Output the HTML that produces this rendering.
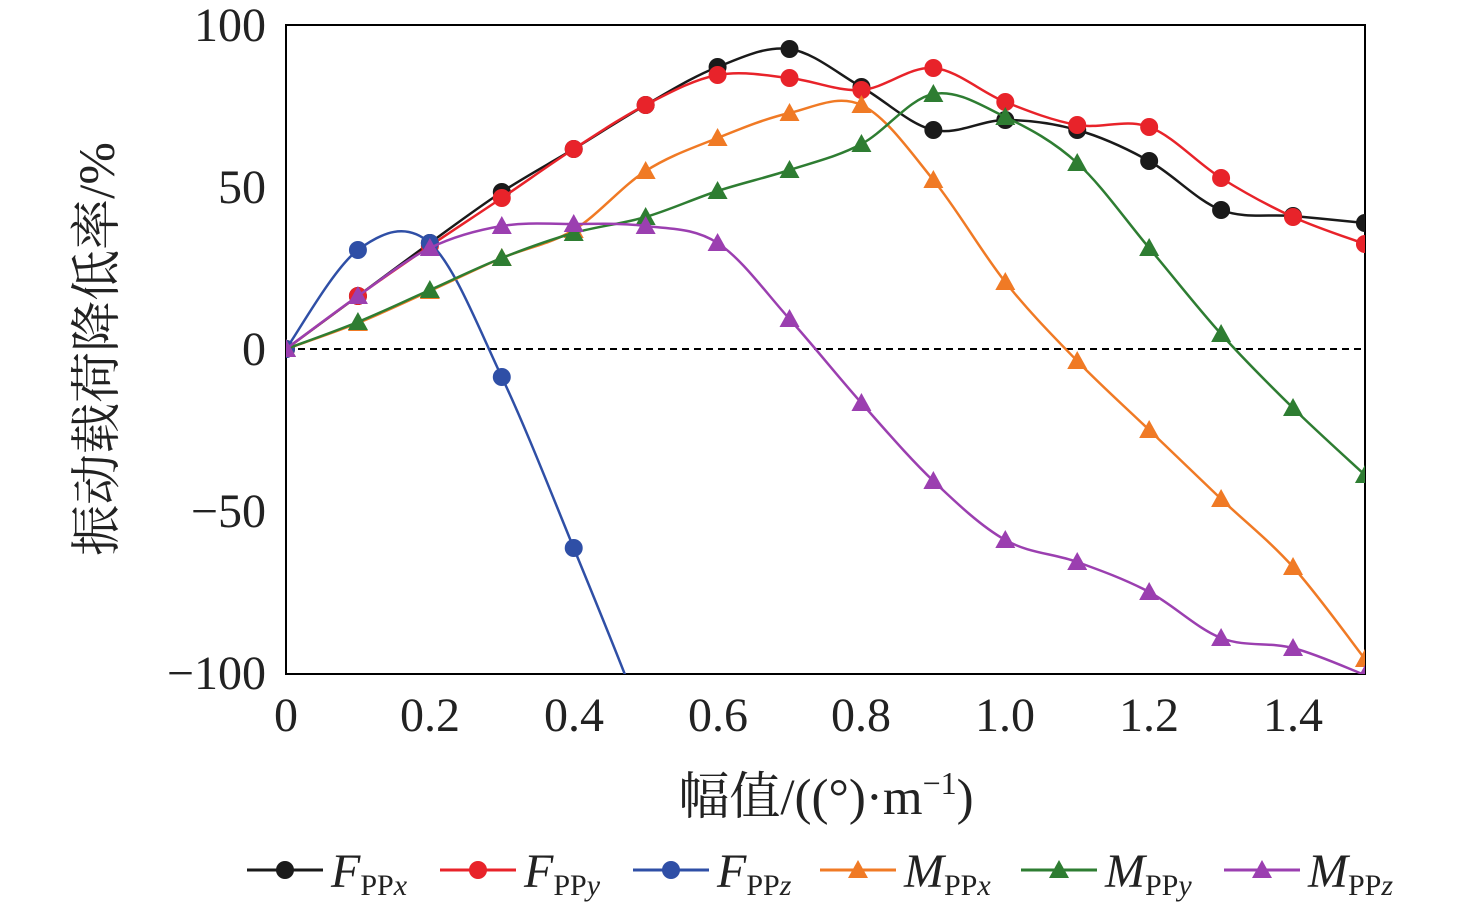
<!DOCTYPE html>
<html><head><meta charset="utf-8"><style>
html,body{margin:0;background:#fff;overflow:hidden;width:1476px;height:915px}
svg{display:block}
svg text{font-family:"Liberation Serif","Noto Serif CJK SC",serif;fill:#222}
</style></head><body>
<svg id="s" width="1476" height="915" xmlns="http://www.w3.org/2000/svg">
<defs><clipPath id="c"><rect x="286" y="25" width="1079" height="649"/></clipPath></defs>
<rect x="286" y="25" width="1079" height="649" fill="none" stroke="#000" stroke-width="2"/>
<line x1="286" y1="349" x2="1365" y2="349" stroke="#000" stroke-width="2" stroke-dasharray="7,5"/>
<g font-size="48" text-anchor="end">
<text x="266" y="41">100</text><text x="266" y="203">50</text><text x="266" y="365">0</text>
<text x="266" y="527">−50</text><text x="266" y="689">−100</text></g>
<g font-size="48" text-anchor="middle">
<text x="286" y="731">0</text><text x="430" y="731">0.2</text><text x="574" y="731">0.4</text>
<text x="718" y="731">0.6</text><text x="861" y="731">0.8</text><text x="1005" y="731">1.0</text>
<text x="1149" y="731">1.2</text><text x="1293" y="731">1.4</text></g>
<text x="826" y="814" font-size="51" text-anchor="middle">幅值/((°)·m<tspan font-size="32" dy="-20">−1</tspan><tspan dy="20">)</tspan></text>
<text transform="translate(114,349) rotate(-90)" font-size="51" text-anchor="middle">振动载荷降低率/%</text>
<g id="series" clip-path="url(#c)"></g>
<g id="leg"></g>
</svg>
<script>
var S=[
["#1a1a1a","c",[349,296,243,192,149,105,67,49,87,130,120,130,161,210,216,223],"F","PP","x",247],
["#e8232a","c",[349,296,246,198,149,105,75,78,90,68,102,125,127,178,217,244],"F","PP","y",440],
["#2f4fa6","c",[349,250,243,377,548,728,930],"F","PP","z",633],
["#f07a25","t",[349,323,291,258,230,171,138,113,105,180,282,361,430,499,567,659],"M","PP","x",820],
["#2e7d32","t",[349,322,290,258,233,217,191,170,144,94,117,163,248,334,408,475],"M","PP","y",1021],
["#9b3fb0","t",[349,296,248,226,224,226,243,319,403,481,540,562,592,638,648,675],"M","PP","z",1224]];
var g=document.getElementById('series'),L=document.getElementById('leg'),ns="http://www.w3.org/2000/svg";
function X(i){return 286+i*71.93}
function mk(p,c,t,x,y){var e;if(t=="c"){e=document.createElementNS(ns,"circle");e.setAttribute("cx",x);e.setAttribute("cy",y);e.setAttribute("r",9);}
else{e=document.createElementNS(ns,"polygon");e.setAttribute("points",(x-10)+","+(y+8)+" "+(x+10)+","+(y+8)+" "+x+","+(y-10));}
e.setAttribute("fill",c);p.appendChild(e);}
S.forEach(function(s){var y=s[2],d="M"+X(0)+","+y[0];
for(var i=0;i<y.length-1;i++){var p0=i?i-1:i,p3=i+2<y.length?i+2:i+1;
var c1x=X(i)+(X(i+1)-X(p0))/6,c1y=y[i]+(y[i+1]-y[p0])/6,c2x=X(i+1)-(X(p3)-X(i))/6,c2y=y[i+1]-(y[p3]-y[i])/6;
d+=" C"+c1x+","+c1y+" "+c2x+","+c2y+" "+X(i+1)+","+y[i+1];}
var p=document.createElementNS(ns,"path");p.setAttribute("d",d);p.setAttribute("fill","none");p.setAttribute("stroke",s[0]);p.setAttribute("stroke-width",2.5);g.appendChild(p);
y.forEach(function(v,i){if(v<700)mk(g,s[0],s[1],X(i),v);});
var lx=s[6],l=document.createElementNS(ns,"line");l.setAttribute("x1",lx);l.setAttribute("x2",lx+76);l.setAttribute("y1",870);l.setAttribute("y2",870);l.setAttribute("stroke",s[0]);l.setAttribute("stroke-width",3);L.appendChild(l);
mk(L,s[0],s[1],lx+38,870);
var t=document.createElementNS(ns,"text");t.setAttribute("x",lx+84);t.setAttribute("y",887);t.setAttribute("font-size",48);
t.innerHTML='<tspan font-style="italic">'+s[3]+'</tspan><tspan font-size="30" dy="8">'+s[4]+'</tspan><tspan font-size="30" font-style="italic">'+s[5]+'</tspan>';L.appendChild(t);});
</script>
</body></html>
